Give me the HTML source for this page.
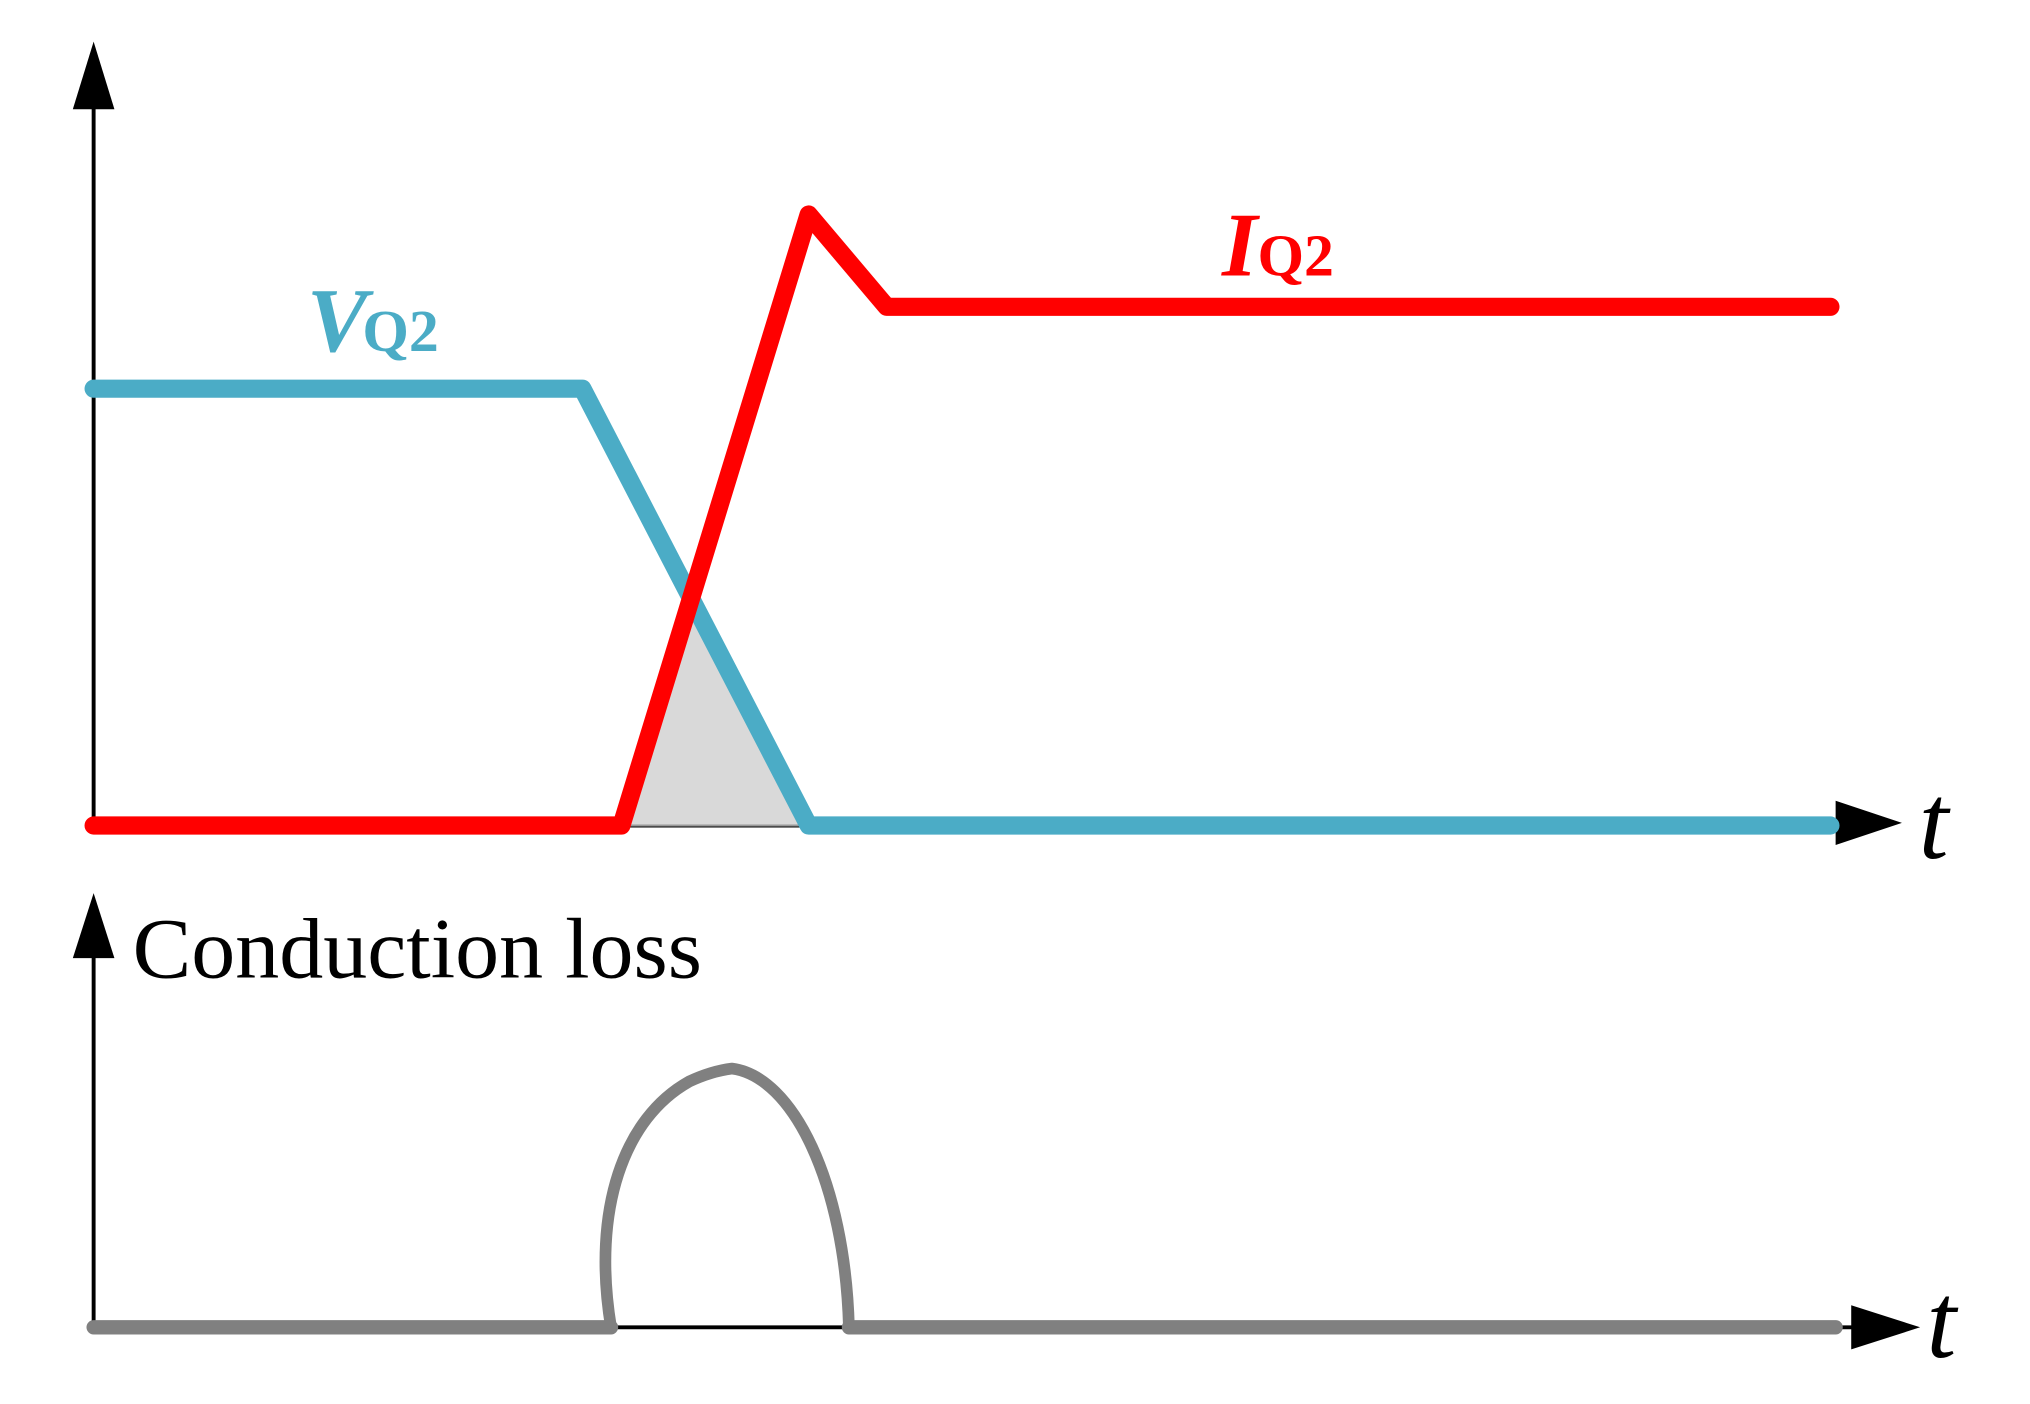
<!DOCTYPE html>
<html><head><style>html,body{margin:0;padding:0;background:#fff;}svg{display:block}</style></head>
<body>
<svg width="2030" height="1404" viewBox="0 0 1561.5 1080" xmlns="http://www.w3.org/2000/svg">
<rect width="1561.5" height="1080" fill="#fff"/>
<line x1="72" y1="80" x2="72" y2="636" stroke="#000" stroke-width="3"/>
<polygon points="72,32 56,84 88,84" fill="#000"/>
<line x1="72" y1="635" x2="1415" y2="635" stroke="#000" stroke-width="3"/>
<polygon points="1463,633 1412,616 1412,650" fill="#000"/>
<text x="1476" y="660" font-family="Liberation Serif, serif" font-style="italic" font-size="82">t</text>
<polygon points="482,635 535,462 615,635" fill="#d9d9d9" stroke="#999" stroke-width="1.5"/>
<polyline points="72,299 448,299 622,635 1408,635" fill="none" stroke="#4bacc6" stroke-width="14" stroke-linecap="round" stroke-linejoin="round"/>
<polyline points="72,635 478,635 622,165 682,236 1408,236" fill="none" stroke="#ff0000" stroke-width="14" stroke-linecap="round" stroke-linejoin="round"/>
<text x="236" y="270" font-family="Liberation Serif, serif" font-weight="bold" fill="#4bacc6"><tspan font-style="italic" font-size="70">V</tspan><tspan font-size="46" dx="-4">Q2</tspan></text>
<text x="940" y="212" font-family="Liberation Serif, serif" font-weight="bold" fill="#ff0000"><tspan font-style="italic" font-size="70">I</tspan><tspan font-size="46">Q2</tspan></text>
<line x1="72" y1="733" x2="72" y2="1022" stroke="#000" stroke-width="3"/>
<polygon points="72,687 56,737 88,737" fill="#000"/>
<line x1="72" y1="1021" x2="1425" y2="1021" stroke="#000" stroke-width="3"/>
<polygon points="1477,1021 1424,1004 1424,1038" fill="#000"/>
<text x="1482" y="1044" font-family="Liberation Serif, serif" font-style="italic" font-size="82">t</text>
<text x="102" y="752" font-family="Liberation Serif, serif" font-size="66" textLength="438" lengthAdjust="spacingAndGlyphs">Conduction loss</text>
<line x1="72" y1="1021" x2="470" y2="1021" stroke="#808080" stroke-width="11" stroke-linecap="round"/>
<line x1="653" y1="1021" x2="1412" y2="1021" stroke="#808080" stroke-width="11" stroke-linecap="round"/>
<path d="M470,1021 C455,930 480,860 530,832 C545,825 555,823 563,822 C610,828 650,910 653,1021" fill="none" stroke="#808080" stroke-width="9" stroke-linecap="round"/>
</svg>
</body></html>
